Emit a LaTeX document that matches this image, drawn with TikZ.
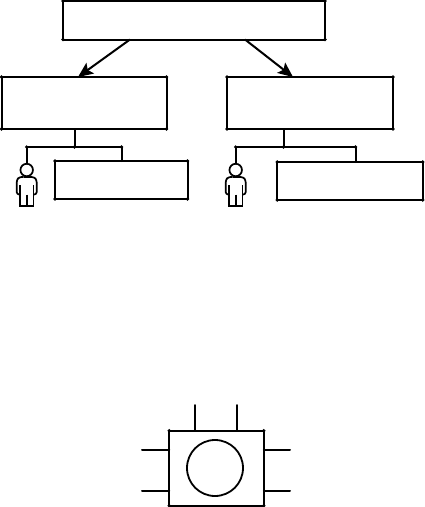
\documentclass[tikz,border=0pt]{standalone}
\usetikzlibrary{arrows.meta,calc}
\tikzset{
  line/.style={line width=2pt,black,line cap=round,line join=round},
  box/.style={draw,line width=2pt,black,rectangle,inner sep=0pt,outer sep=0pt,line join=round},
  head/.style={draw,line width=1.7pt,black,circle,inner sep=0pt,outer sep=0pt,minimum size=12.5pt},
  arr/.style={line,line cap=butt,-{Stealth[length=15pt,width=13pt,inset=3pt]}},
  personbody/.style={line width=1.7pt,black,line join=round,rounded corners=2.5pt},
  corner/.style={black}
}
\newcommand{\corners}[1]{%
  \foreach \a in {north west,north east,south west,south east}{\fill[corner] (#1.\a) circle (1.8pt);}}
\newcommand{\personat}[2]{%
  \begin{scope}[shift={(#1,0)}]
    \node[head] (#2) at (0,170) {};
    \draw[personbody] (-3,177) -- (-7.5,177) -- (-10,180) -- (-10,194.5) -- (-6.8,194.5);
    \draw[personbody] (3,177) -- (7.5,177) -- (10,180) -- (10,194.5) -- (6.8,194.5);
    \draw[line width=1.7pt,black,line join=round] (-3,177) -- (3,177);
    \draw[line width=1.7pt,black,line join=miter] (-6.8,185) -- (-6.8,205.7) -- (6.8,205.7) -- (6.8,185);
    \draw[line width=1.7pt,black] (0,194.5) -- (0,205.7);
  \end{scope}}
\begin{document}
\begin{tikzpicture}[x=1pt,y=-1pt]
\useasboundingbox (0,0) rectangle (424,507);
% boxes
\node[box,minimum width=262pt,minimum height=38.5pt] (top) at (194,20.25) {};
\node[box,minimum width=165pt,minimum height=52pt] (L) at (84,103) {};
\node[box,minimum width=166pt,minimum height=52pt] (R) at (310,103) {};
\node[box,minimum width=132.5pt,minimum height=38pt] (LC) at (121.25,180) {};
\node[box,minimum width=145.5pt,minimum height=38pt] (RC) at (350,181) {};
\corners{top}\corners{L}\corners{R}\corners{LC}\corners{RC}
% arrows
\coordinate (a1) at (130,39.5);
\coordinate (a2) at (245,39.5);
\coordinate (t1) at (78,76);
\coordinate (t2) at (293,76);
\draw[arr] (a1 |- top.south) -- (t1 |- L.north);
\draw[arr] (a2 |- top.south) -- (t2 |- R.north);
% people
\personat{26.7}{hL}
\personat{235.7}{hR}
% left tree
\coordinate (jL) at (74.5,147);
\coordinate (lL) at (27,147);
\coordinate (rL) at (121.5,147);
\draw[line] (jL |- L.south) -- (jL);
\draw[line] (hL.north) -- (hL.north |- lL) -- (rL) -- (rL |- LC.north);
\fill[corner] (jL) circle (1.8pt); \fill[corner] (hL.north |- lL) circle (1.8pt); \fill[corner] (rL) circle (1.8pt);
% right tree
\coordinate (jR) at (283.5,147);
\coordinate (rR) at (355.5,147);
\draw[line] (jR |- R.south) -- (jR);
\draw[line] (hR.north) -- (hR.north |- jR) -- (rR) -- (rR |- RC.north);
\fill[corner] (jR) circle (1.8pt); \fill[corner] (hR.north |- jR) circle (1.8pt); \fill[corner] (rR) circle (1.8pt);
% lower component
\node[box,minimum width=94.5pt,minimum height=75pt] (chip) at (216.5,468.2) {};
\corners{chip}
\node[draw,line width=1.8pt,black,circle,inner sep=0pt,outer sep=0pt,minimum size=56pt] (disc) at (215,468) {};
\coordinate (p1) at (195.3,405);
\coordinate (p2) at (237.3,405);
\coordinate (p3) at (142,450);
\coordinate (p4) at (142,491.3);
\coordinate (p5) at (290,450);
\coordinate (p6) at (290,491.3);
\draw[line] (p1) -- (p1 |- chip.north);
\draw[line] (p2) -- (p2 |- chip.north);
\draw[line] (p3) -- (p3 -| chip.west);
\draw[line] (p4) -- (p4 -| chip.west);
\draw[line] (p5) -- (p5 -| chip.east);
\draw[line] (p6) -- (p6 -| chip.east);
\end{tikzpicture}
\end{document}
